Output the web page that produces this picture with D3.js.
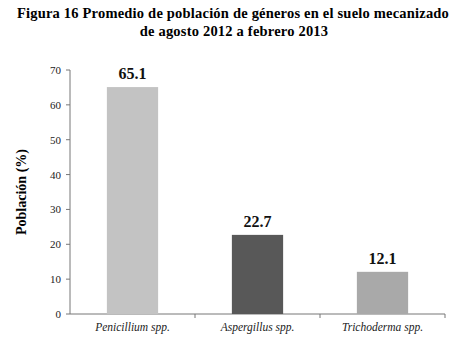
<!DOCTYPE html>
<html>
<head>
<meta charset="utf-8">
<script src="https://cdn.jsdelivr.net/npm/d3@7"></script>
<style>
  body { margin: 0; background: #fff; }
  svg text { font-family: "Liberation Serif", "DejaVu Serif", serif; }
</style>
</head>
<body>
<div id="chart"></div>
<script>
const categories = ['Penicillium spp.', 'Aspergillus spp.', 'Trichoderma spp.']
const values = [65.1, 22.7, 12.1]
const barColors = ['#c3c3c3', '#585858', '#a9a9a9']
const yTicks = [0, 10, 20, 30, 40, 50, 60, 70]

let width = 464
let height = 341
let margin = {top: 70, right: 19, bottom: 27, left: 70}
let innerWidth = width - margin.left - margin.right
let innerHeight = height - margin.top - margin.bottom

const svg = d3.select('#chart').append('svg')
          .attr('width', width)
          .attr('height', height)

// title
svg.append('text')
  .attr('x', 233).attr('y', 18)
  .attr('text-anchor', 'middle')
  .style('font-size', '14.5px').style('font-weight', 'bold')
  .style('letter-spacing', '0.2px')
  .text('Figura 16 Promedio de población de géneros en el suelo mecanizado')
svg.append('text')
  .attr('x', 234).attr('y', 36)
  .attr('text-anchor', 'middle')
  .style('font-size', '14.5px').style('font-weight', 'bold')
  .style('letter-spacing', '0.2px')
  .text('de agosto 2012 a febrero 2013')

const g = svg.append('g').attr('transform', `translate(${margin.left},${margin.top})`)

let xScale = d3.scaleBand().domain(categories).range([0, innerWidth]).paddingInner(0.59).paddingOuter(0.295)
let xAxisScale = d3.scaleBand().domain(categories).range([0, innerWidth])
let yScale = d3.scaleLinear().domain([0, 70]).range([innerHeight, 0])

// y axis (ticks drawn from the scale)
let gY = g.append('g').attr('class', 'yAxis')
gY.append('line').attr('y1', yScale(0)).attr('y2', yScale(70)).attr('stroke', '#777')
gY.selectAll('.ytick')
  .data(yTicks)
  .enter().append('line')
  .attr('x1', -4).attr('x2', 0)
  .attr('y1', d => yScale(d)).attr('y2', d => yScale(d))
  .attr('stroke', '#777')
gY.selectAll('.ylbl')
  .data(yTicks)
  .enter().append('text')
  .attr('x', -9)
  .attr('y', d => yScale(d) + 4)
  .attr('text-anchor', 'end')
  .style('font-size', '11px')
  .attr('fill', '#222')
  .text(d => d)

// x axis with ticks at band boundaries
let gX = g.append('g').attr('transform', `translate(0,${innerHeight})`)
gX.append('line').attr('x1', 0).attr('x2', innerWidth).attr('stroke', '#777')
gX.selectAll('.bound')
  .data(categories)
  .enter().append('line')
  .attr('x1', d => xAxisScale(d) + xAxisScale.bandwidth())
  .attr('x2', d => xAxisScale(d) + xAxisScale.bandwidth())
  .attr('y1', 0).attr('y2', 4)
  .attr('stroke', '#777')
gX.selectAll('.cat')
  .data(categories)
  .enter().append('text')
  .attr('x', d => xAxisScale(d) + xAxisScale.bandwidth() / 2)
  .attr('y', 17)
  .attr('text-anchor', 'middle')
  .style('font-size', '11.5px').style('font-style', 'italic')
  .attr('fill', '#222')
  .text(d => d)

// bars
let data = categories.map((c, i) => ({cat: c, val: values[i], color: barColors[i]}))
g.selectAll('.bar')
  .data(data)
  .enter().append('rect')
  .attr('class', 'bar')
  .attr('x', d => xScale(d.cat))
  .attr('y', d => yScale(d.val))
  .attr('width', xScale.bandwidth())
  .attr('height', d => innerHeight - yScale(d.val))
  .attr('fill', d => d.color)

g.selectAll('.lbl')
  .data(data)
  .enter().append('text')
  .attr('x', d => xScale(d.cat) + xScale.bandwidth() / 2)
  .attr('y', d => yScale(d.val) - 8)
  .attr('text-anchor', 'middle')
  .style('font-size', '16px').style('font-weight', 'bold')
  .attr('fill', '#111')
  .text(d => d.val.toFixed(1))

// y label
svg.append('text')
  .attr('transform', `translate(26,${margin.top + innerHeight / 2}) rotate(-90)`)
  .attr('text-anchor', 'middle')
  .style('font-size', '14px').style('font-weight', 'bold')
  .text('Población (%)')
</script>
</body>
</html>
